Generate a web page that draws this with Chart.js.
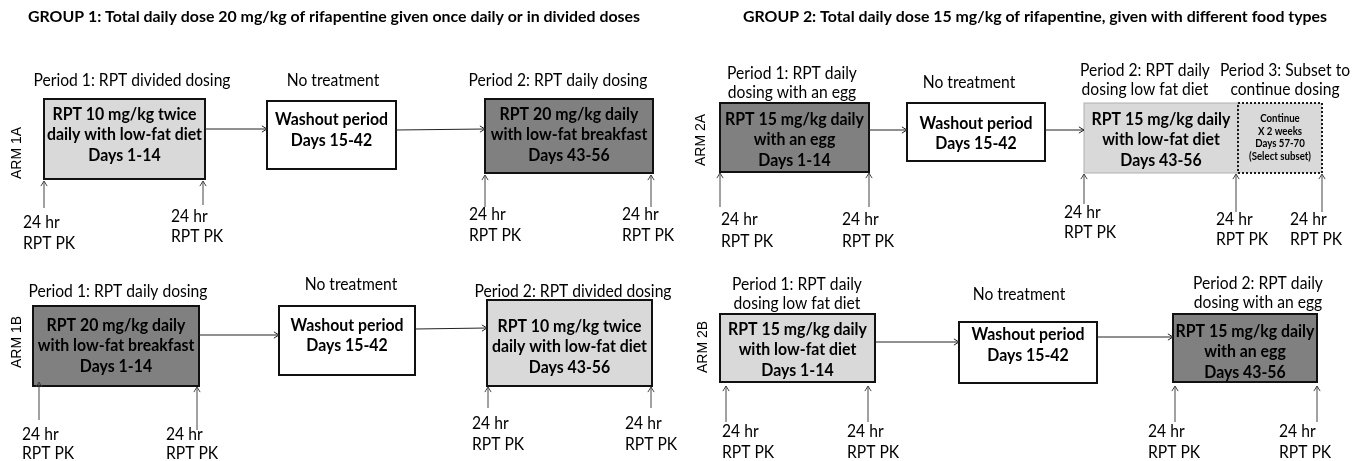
<!DOCTYPE html>
<html>
<head>
<meta charset="utf-8">
<script src="https://cdn.jsdelivr.net/npm/chart.js@4.4.0/dist/chart.umd.min.js"></script>
<style>
  html, body { margin: 0; padding: 0; background: #fff; }
  #wrap { width: 1362px; height: 461px; }
</style>
</head>
<body>
<div id="wrap"><canvas id="myChart"></canvas></div>
<script>
// --- diagram content ---
const groupTitles = [
  "GROUP 1: Total daily dose 20 mg/kg of rifapentine given once daily or in divided doses",
  "GROUP 2: Total daily dose 15 mg/kg of rifapentine, given with different food types"
];
const armNames = ["ARM 1A", "ARM 1B", "ARM 2A", "ARM 2B"];

const periodTexts = [
  ["Period 1: RPT divided dosing"], ["No treatment"], ["Period 2: RPT daily dosing"],
  ["Period 1: RPT daily dosing"], ["No treatment"], ["Period 2: RPT divided dosing"],
  ["Period 1: RPT daily", "dosing with an egg"], ["No treatment"],
  ["Period 2: RPT daily", "dosing low fat diet"], ["Period 3: Subset to", "continue dosing"],
  ["Period 1: RPT daily", "dosing low fat diet"], ["No treatment"],
  ["Period 2: RPT daily", "dosing with an egg"]
];

const boxTexts = [
  ["RPT 10 mg/kg twice", "daily with low-fat diet", "Days 1-14"],
  ["Washout period", "Days 15-42"],
  ["RPT 20 mg/kg daily", "with low-fat breakfast", "Days 43-56"],
  ["RPT 20 mg/kg daily", "with low-fat breakfast", "Days 1-14"],
  ["Washout period", "Days 15-42"],
  ["RPT 10 mg/kg twice", "daily with low-fat diet", "Days 43-56"],
  ["RPT 15 mg/kg daily", "with an egg", "Days 1-14"],
  ["Washout period", "Days 15-42"],
  ["RPT 15 mg/kg daily", "with low-fat diet", "Days 43-56"],
  ["Continue", "X 2 weeks", "Days 57-70", "(Select subset)"],
  ["RPT 15 mg/kg daily", "with low-fat diet", "Days 1-14"],
  ["Washout period", "Days 15-42"],
  ["RPT 15 mg/kg daily", "with an egg", "Days 43-56"]
];
const boxShade = ["light", "white", "dark", "dark", "white", "light",
                  "dark", "white", "light", "subset", "light", "white", "dark"];

const pkLabel = ["24 hr", "RPT PK"];

// --- layout, in the units of the x / y scales ---
const titleAt = [[334, 17], [1035, 17]];
const armAt = [[17, 153], [17, 342], [701, 140], [703, 347]];
const periodAt = [
  [132, 81], [333, 81], [558, 81],
  [118, 292], [351, 285], [573, 292],
  [792, 74], [969, 83], [1145, 71], [1285, 71],
  [797, 285], [1019, 295], [1258, 284]
];
const boxX = [[44, 205], [267, 396], [485, 653], [33, 199], [279, 415], [487, 652],
              [720, 869], [907, 1045], [1084, 1238], [1238, 1322],
              [720, 875], [959, 1097], [1173, 1317]];
const boxY = [[99, 179], [101, 169], [99, 173], [306, 386], [306, 375], [300, 386],
              [103, 172], [103, 161], [103, 173], [103, 173],
              [314, 382], [322, 383], [314, 382]];
const boxTextMid = [135, 130, 135, 346, 335.5, 347, 140, 133.5, 140, 137.5, 350, 345, 352];

const flowArrows = [
  [205, 129, 267, 129], [396, 130, 485, 129],
  [199, 335, 279, 335], [415, 329, 487, 328],
  [869, 130, 907, 130], [1045, 130, 1084, 130],
  [875, 342, 959, 342], [1097, 337, 1173, 337]
];
// x, arrow tip y, arrow base y, label left x, "24 hr" y, "RPT PK" y
const pkArrows = [
  [44, 181, 208, 23, 223, 244], [203, 181, 205, 171, 217, 237],
  [485, 175, 207, 469, 215, 236], [651, 175, 207, 622, 215, 236],
  [39, 382, 420, 22, 435, 454], [197, 387, 430, 166, 435, 454],
  [488, 387, 408, 472, 424, 445], [651, 387, 408, 625, 424, 445],
  [720, 173, 207, 721, 220, 242], [869, 173, 207, 842, 220, 242],
  [1084, 174, 204, 1064, 213, 233], [1236, 174, 212, 1216, 220, 240],
  [1322, 174, 212, 1290, 220, 240],
  [726, 386, 422, 722, 432, 453], [868, 386, 422, 847, 432, 453],
  [1175, 386, 422, 1148, 432, 453], [1317, 386, 422, 1279, 432, 453]
];

const shades = {
  light: "#d9d9d9",
  white: "#ffffff",
  dark: "#808080",
  subset: "#d9d9d9"
};

// text styles; widths come from the reference so the stand-in font is squeezed to fit
const styles = {
  title: { font: "bold 15.5px Lato", ref: groupTitles[0], width: 612 },
  label: { font: "16.5px Lato", ref: "Period 1: RPT divided dosing", width: 197 },
  box: { font: "bold 16.5px Lato", ref: "daily with low-fat diet", width: 155 },
  small: { font: "bold 10.5px Lato", ref: "(Select subset)", width: 62 },
  arm: { font: "15px 'Liberation Sans'", ref: "ARM 1A", width: 52 }
};

const diagram = {
  id: "diagram",
  afterDraw(chart) {
    const ctx = chart.ctx;
    const X = v => chart.scales.x.getPixelForValue(v);
    const Y = v => chart.scales.y.getPixelForValue(v);

    for (const k in styles) {
      ctx.font = styles[k].font;
      styles[k].k = styles[k].width / ctx.measureText(styles[k].ref).width;
    }

    function text(str, x, y, st, align) {
      ctx.save();
      ctx.font = st.font;
      ctx.fillStyle = "#000";
      ctx.textAlign = align || "center";
      ctx.textBaseline = "middle";
      ctx.translate(X(x), Y(y));
      ctx.scale(st.k, 1);
      ctx.fillText(str, 0, 0);
      ctx.restore();
    }

    function arrow(x1, y1, x2, y2, color) {
      const px1 = X(x1), py1 = Y(y1), px2 = X(x2), py2 = Y(y2);
      const a = Math.atan2(py2 - py1, px2 - px1);
      ctx.save();
      ctx.strokeStyle = color;
      ctx.lineWidth = 1;
      ctx.beginPath();
      ctx.moveTo(px1, py1);
      ctx.lineTo(px2, py2);
      ctx.moveTo(px2 - 6 * Math.cos(a - 0.55), py2 - 6 * Math.sin(a - 0.55));
      ctx.lineTo(px2, py2);
      ctx.lineTo(px2 - 6 * Math.cos(a + 0.55), py2 - 6 * Math.sin(a + 0.55));
      ctx.stroke();
      ctx.restore();
    }

    // titles
    groupTitles.forEach((t, i) => text(t, titleAt[i][0], titleAt[i][1], styles.title));

    // arm names, rotated
    armNames.forEach((t, i) => {
      ctx.save();
      ctx.font = styles.arm.font;
      ctx.fillStyle = "#000";
      ctx.textAlign = "center";
      ctx.textBaseline = "middle";
      ctx.translate(X(armAt[i][0]), Y(armAt[i][1]));
      ctx.rotate(-Math.PI / 2);
      ctx.scale(styles.arm.k, 1);
      ctx.fillText(t, 0, 0);
      ctx.restore();
    });

    // period labels
    periodTexts.forEach((lines, i) => {
      lines.forEach((l, j) => text(l, periodAt[i][0], periodAt[i][1] + j * 19, styles.label));
    });

    // boxes
    boxTexts.forEach((lines, i) => {
      const x0 = X(boxX[i][0]), x1 = X(boxX[i][1]);
      const y0 = Y(boxY[i][0]), y1 = Y(boxY[i][1]);
      const shade = boxShade[i];
      ctx.save();
      ctx.fillStyle = shades[shade];
      ctx.fillRect(x0, y0, x1 - x0, y1 - y0);
      if (shade === "subset") {
        ctx.setLineDash([2, 2]);
        ctx.strokeStyle = "#1a1a1a";
        ctx.lineWidth = 2;
      } else if (i === 8) {
        ctx.strokeStyle = "#b0b0b0";
        ctx.lineWidth = 1;
      } else {
        ctx.strokeStyle = "#111";
        ctx.lineWidth = 2;
      }
      ctx.strokeRect(x0, y0, x1 - x0, y1 - y0);
      ctx.restore();

      const st = shade === "subset" ? styles.small : styles.box;
      const gap = shade === "subset" ? 12.5 : 20.5;
      const cx = (boxX[i][0] + boxX[i][1]) / 2;
      const start = boxTextMid[i] - gap * (lines.length - 1) / 2;
      lines.forEach((l, j) => text(l, cx, start + j * gap, st));
    });

    // flow arrows between periods
    flowArrows.forEach(a => arrow(a[0], a[1], a[2], a[3], "#222"));

    // PK sampling arrows and labels
    pkArrows.forEach(p => {
      arrow(p[0], p[2], p[0], p[1], "#444");
      text(pkLabel[0], p[3], p[4], styles.label, "left");
      text(pkLabel[1], p[3], p[5], styles.label, "left");
    });
  }
};

const ctx = document.getElementById("myChart");
const myChart = new Chart(ctx, {
  type: "scatter",
  data: { datasets: [{ data: [], pointRadius: 0 }] },
  options: {
    responsive: true,
    maintainAspectRatio: false,
    animation: false,
    devicePixelRatio: 1,
    layout: { padding: 0 },
    plugins: { legend: { display: false }, tooltip: { enabled: false } },
    scales: {
      x: { type: "linear", min: 0, max: 1362, display: false },
      y: { type: "linear", min: 0, max: 461, reverse: true, display: false }
    }
  },
  plugins: [diagram]
});
</script>
</body>
</html>
